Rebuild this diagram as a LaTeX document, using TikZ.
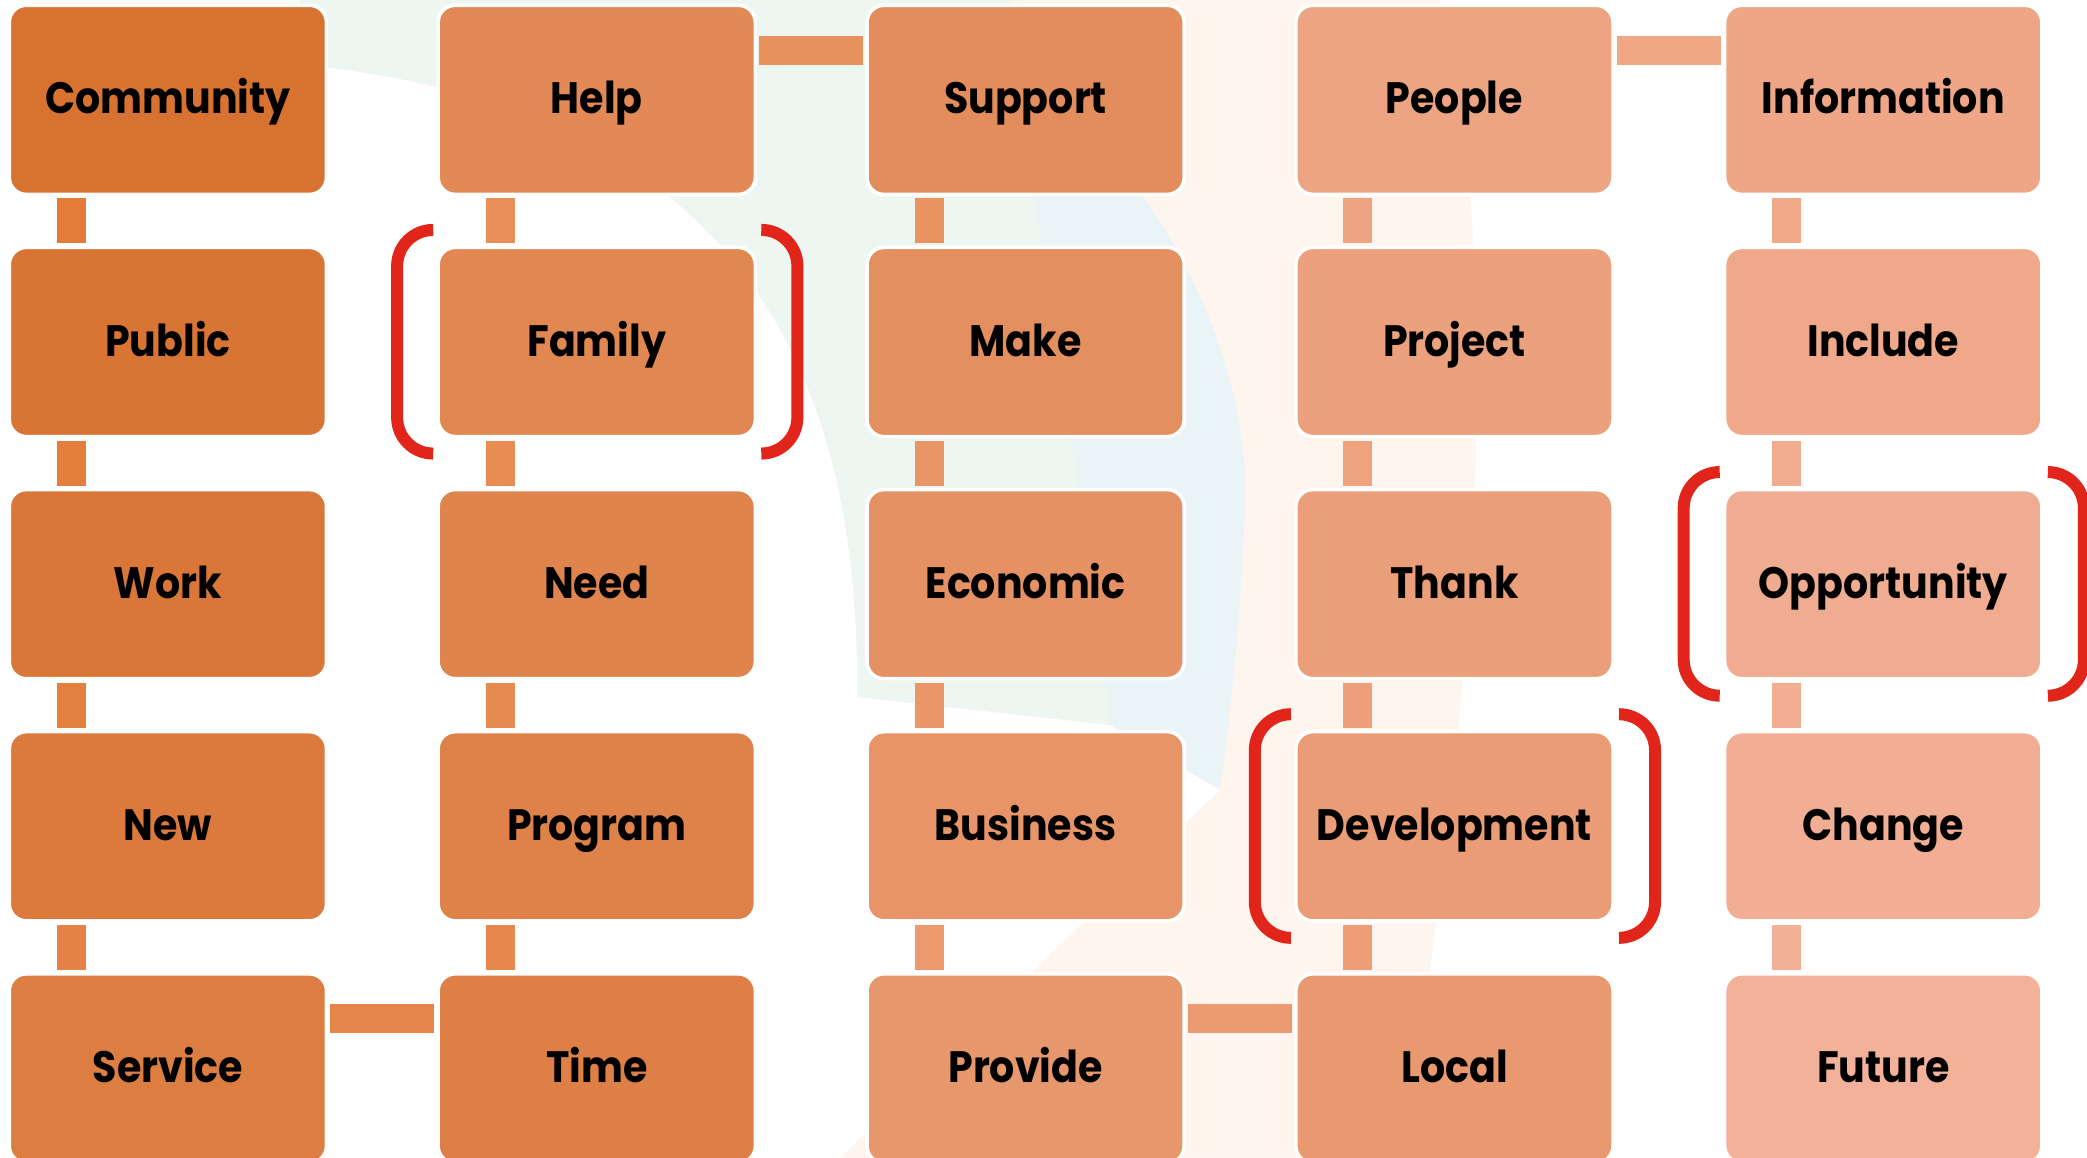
\documentclass[tikz,border=0pt]{standalone}
\usepackage{fontspec}
\setmainfont{Poppins}[FakeStretch=0.9]
\usepackage{tikz}
\usetikzlibrary{positioning}
\definecolor{rustdark}{RGB}{216,114,48}
\definecolor{salmonlight}{RGB}{242,177,152}
\definecolor{linkdark}{RGB}{227,123,54}
\definecolor{bracketred}{RGB}{225,37,27}
\definecolor{wmgreen}{RGB}{238,246,241}
\definecolor{wmblue}{RGB}{234,243,246}
\definecolor{wmpeach}{RGB}{253,245,238}

\begin{document}
\begin{tikzpicture}[x=0.01cm, y=-0.01cm,
    word/.style={draw=white, line width=1pt, outer sep=0pt, rounded corners=0.17cm, minimum width=3.17cm, minimum height=1.89cm, align=center, text height=0.8em, text depth=0pt, font=\bfseries\fontsize{12.5}{14}\selectfont},
    link/.style={line width=0.29cm, shorten <=0.04cm, shorten >=0.04cm},
    bracket/.style={draw=bracketred, line width=0.12cm, rounded corners=0.36cm},
    node distance=0.53cm and 1.116cm
]
\useasboundingbox (0,0) rectangle (2087,1158);

% Faint logo behind the grid
\fill[wmpeach] (1000,0) -- (1440,0) .. controls (1500,250) and (1480,600) .. (1430,970) -- (1410,1158) -- (840,1158) -- (1220,790) -- (1100,300) -- cycle;
\fill[wmblue] (1000,60) .. controls (1150,150) and (1250,350) .. (1245,500) .. controls (1240,650) and (1225,750) .. (1220,790) -- (1110,725) -- (900,300) -- cycle;
\fill[wmgreen] (300,0) -- (1010,0) .. controls (1020,150) and (1080,450) .. (1110,725) -- (857,697) .. controls (860,400) and (760,120) .. (330,68) -- (300,68) -- cycle;

% Column 1
\node[word, fill=rustdark, anchor=north west] (community) at (9.3,5.3) {Community};
\node[word, fill=salmonlight!4!rustdark, below=of community] (public) {Public};
\node[word, fill=salmonlight!8!rustdark, below=of public] (work) {Work};
\node[word, fill=salmonlight!12!rustdark, below=of work] (new) {New};
\node[word, fill=salmonlight!17!rustdark, below=of new] (service) {Service};

% Column 2
\node[word, fill=salmonlight!21!rustdark, right=of service] (time) {Time};
\node[word, fill=salmonlight!25!rustdark, above=of time] (program) {Program};
\node[word, fill=salmonlight!29!rustdark, above=of program] (need) {Need};
\node[word, fill=salmonlight!33!rustdark, above=of need] (family) {Family};
\node[word, fill=salmonlight!37!rustdark, above=of family] (help) {Help};

% Column 3
\node[word, fill=salmonlight!42!rustdark, right=of help] (support) {Support};
\node[word, fill=salmonlight!46!rustdark, below=of support] (make) {Make};
\node[word, fill=salmonlight!50!rustdark, below=of make] (economic) {Economic};
\node[word, fill=salmonlight!54!rustdark, below=of economic] (business) {Business};
\node[word, fill=salmonlight!58!rustdark, below=of business] (provide) {Provide};

% Column 4
\node[word, fill=salmonlight!62!rustdark, right=of provide] (local) {Local};
\node[word, fill=salmonlight!67!rustdark, above=of local] (development) {Development};
\node[word, fill=salmonlight!71!rustdark, above=of development] (thank) {Thank};
\node[word, fill=salmonlight!75!rustdark, above=of thank] (project) {Project};
\node[word, fill=salmonlight!79!rustdark, above=of project] (people) {People};

% Column 5
\node[word, fill=salmonlight!83!rustdark, right=of people] (information) {Information};
\node[word, fill=salmonlight!87!rustdark, below=of information] (include) {Include};
\node[word, fill=salmonlight!92!rustdark, below=of include] (opportunity) {Opportunity};
\node[word, fill=salmonlight!96!rustdark, below=of opportunity] (change) {Change};
\node[word, fill=salmonlight, below=of change] (future) {Future};

% Links down the columns
\draw[link, salmonlight!2!linkdark] ([xshift=0.62cm]community.south west) -- ([xshift=0.62cm]public.north west);
\draw[link, salmonlight!6!linkdark] ([xshift=0.62cm]public.south west) -- ([xshift=0.62cm]work.north west);
\draw[link, salmonlight!10!linkdark] ([xshift=0.62cm]work.south west) -- ([xshift=0.62cm]new.north west);
\draw[link, salmonlight!15!linkdark] ([xshift=0.62cm]new.south west) -- ([xshift=0.62cm]service.north west);
\draw[link, salmonlight!19!linkdark] ([yshift=-0.45cm]service.north east) -- ([yshift=-0.45cm]time.north west);
\draw[link, salmonlight!23!linkdark] ([xshift=0.62cm]time.north west) -- ([xshift=0.62cm]program.south west);
\draw[link, salmonlight!27!linkdark] ([xshift=0.62cm]program.north west) -- ([xshift=0.62cm]need.south west);
\draw[link, salmonlight!31!linkdark] ([xshift=0.62cm]need.north west) -- ([xshift=0.62cm]family.south west);
\draw[link, salmonlight!35!linkdark] ([xshift=0.62cm]family.north west) -- ([xshift=0.62cm]help.south west);
\draw[link, salmonlight!40!linkdark] ([yshift=-0.45cm]help.north east) -- ([yshift=-0.45cm]support.north west);
\draw[link, salmonlight!44!linkdark] ([xshift=0.62cm]support.south west) -- ([xshift=0.62cm]make.north west);
\draw[link, salmonlight!48!linkdark] ([xshift=0.62cm]make.south west) -- ([xshift=0.62cm]economic.north west);
\draw[link, salmonlight!52!linkdark] ([xshift=0.62cm]economic.south west) -- ([xshift=0.62cm]business.north west);
\draw[link, salmonlight!56!linkdark] ([xshift=0.62cm]business.south west) -- ([xshift=0.62cm]provide.north west);
\draw[link, salmonlight!60!linkdark] ([yshift=-0.45cm]provide.north east) -- ([yshift=-0.45cm]local.north west);
\draw[link, salmonlight!65!linkdark] ([xshift=0.62cm]local.north west) -- ([xshift=0.62cm]development.south west);
\draw[link, salmonlight!69!linkdark] ([xshift=0.62cm]development.north west) -- ([xshift=0.62cm]thank.south west);
\draw[link, salmonlight!73!linkdark] ([xshift=0.62cm]thank.north west) -- ([xshift=0.62cm]project.south west);
\draw[link, salmonlight!77!linkdark] ([xshift=0.62cm]project.north west) -- ([xshift=0.62cm]people.south west);
\draw[link, salmonlight!81!linkdark] ([yshift=-0.45cm]people.north east) -- ([yshift=-0.45cm]information.north west);
\draw[link, salmonlight!85!linkdark] ([xshift=0.62cm]information.south west) -- ([xshift=0.62cm]include.north west);
\draw[link, salmonlight!90!linkdark] ([xshift=0.62cm]include.south west) -- ([xshift=0.62cm]opportunity.north west);
\draw[link, salmonlight!94!linkdark] ([xshift=0.62cm]opportunity.south west) -- ([xshift=0.62cm]change.north west);
\draw[link, salmonlight!98!linkdark] ([xshift=0.62cm]change.south west) -- ([xshift=0.62cm]future.north west);

% Red brackets
\draw[bracket] ([xshift=-0.05cm,yshift=0.175cm]family.north west) -| ([xshift=-0.41cm]family.west) |- ([xshift=-0.05cm,yshift=-0.17cm]family.south west);
\draw[bracket] ([xshift=0.06cm,yshift=0.175cm]family.north east) -| ([xshift=0.42cm]family.east) |- ([xshift=0.06cm,yshift=-0.17cm]family.south east);
\draw[bracket] ([xshift=-0.05cm,yshift=0.175cm]development.north west) -| ([xshift=-0.41cm]development.west) |- ([xshift=-0.05cm,yshift=-0.17cm]development.south west);
\draw[bracket] ([xshift=0.06cm,yshift=0.175cm]development.north east) -| ([xshift=0.42cm]development.east) |- ([xshift=0.06cm,yshift=-0.17cm]development.south east);
\draw[bracket] ([xshift=-0.05cm,yshift=0.175cm]opportunity.north west) -| ([xshift=-0.41cm]opportunity.west) |- ([xshift=-0.05cm,yshift=-0.17cm]opportunity.south west);
\draw[bracket] ([xshift=0.06cm,yshift=0.175cm]opportunity.north east) -| ([xshift=0.42cm]opportunity.east) |- ([xshift=0.06cm,yshift=-0.17cm]opportunity.south east);

\end{tikzpicture}
\end{document}
